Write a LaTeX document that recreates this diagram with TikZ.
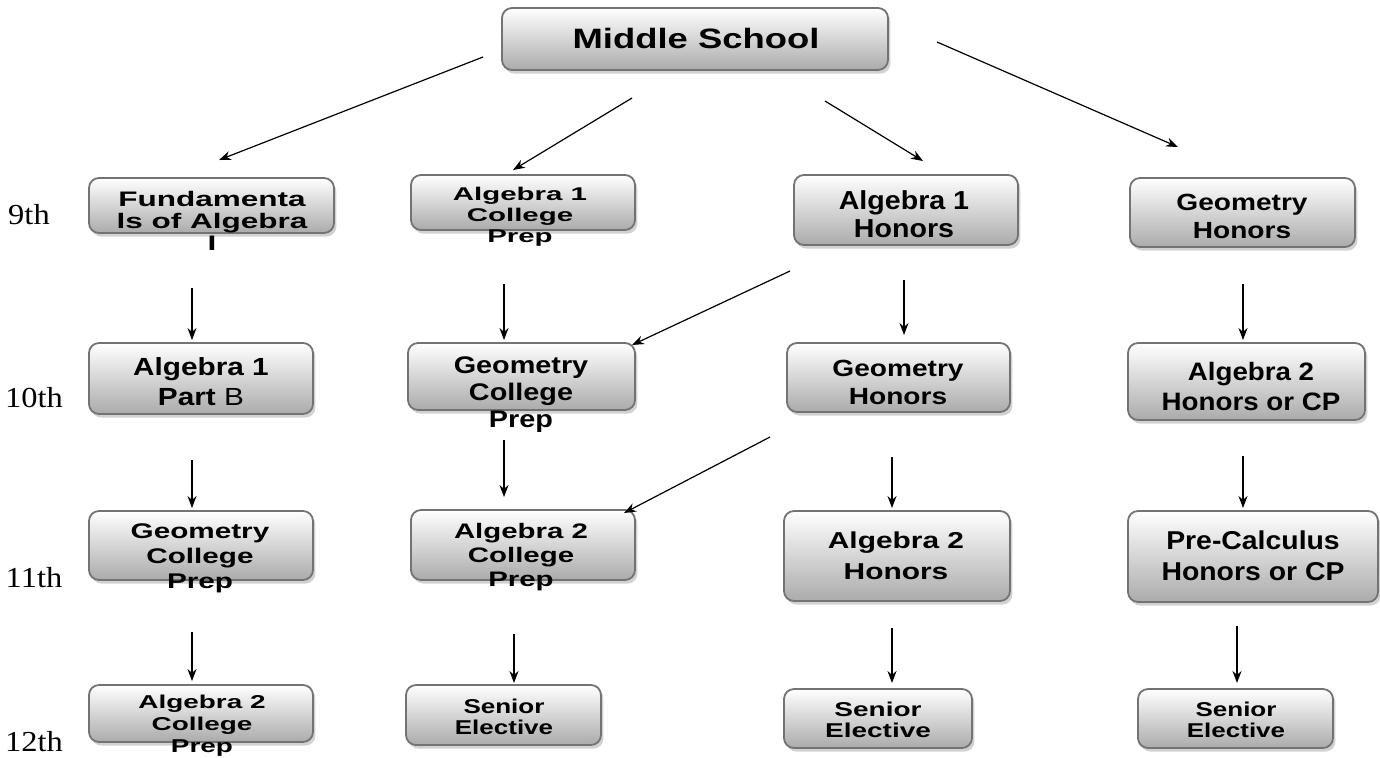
\documentclass[tikz,border=0pt]{standalone}
\usepackage{fontspec}
\setmainfont{Liberation Serif}
\newfontfamily\rowfont[FakeStretch=1.12]{Liberation Serif}
\newfontfamily\fsA[FakeStretch=1.1]{Liberation Sans}
\newfontfamily\fsB[FakeStretch=1.2]{Liberation Sans}
\newfontfamily\fsC[FakeStretch=1.3]{Liberation Sans}
\newfontfamily\fsD[FakeStretch=1.4]{Liberation Sans}
\newfontfamily\fsE[FakeStretch=1.5]{Liberation Sans}
\newfontfamily\fsF[FakeStretch=1.6]{Liberation Sans}
\usetikzlibrary{shadows,arrows.meta,calc}
\newcommand\fsz[2]{\fontsize{#1}{#2}\selectfont\bfseries}
\newcommand\mybox[5]{\node[box, minimum width={(#4-#2)*0.5pt}, minimum height={(#5-#3)*0.5pt}] (#1) at ({(#2+#4)/2},{(#3+#5)/2}) {};}
\tikzset{
  box/.style={draw=black!55, line width=0.9pt, rounded corners=5pt, top color=white, bottom color=black!33,
    drop shadow={shadow xshift=1.2pt, shadow yshift=-1.8pt, opacity=0.35}, inner sep=0pt},
  txt/.style={align=center, inner sep=0pt},
  arr/.style={-{Stealth[length=6pt,width=4.5pt]}, line width=0.6pt},
  rowlab/.style={font=\rowfont\fontsize{14.5}{16}\selectfont, inner sep=0pt}
}
\begin{document}
\begin{tikzpicture}[x=0.5pt,y=-0.5pt]
\useasboundingbox (0,0) rectangle (1380,757);
\fill[white] (0,0) rectangle (1380,757);

% boxes
\mybox{ms}{502}{8}{888}{70}
\mybox{fund}{89}{178}{334}{233}
\mybox{aocp}{411}{175}{635}{230}
\mybox{aoh}{794}{175}{1018}{245}
\mybox{ghn}{1130}{178}{1355}{247}
\mybox{aob}{89}{343}{313}{414}
\mybox{gcpt}{408}{343}{635}{410}
\mybox{ght}{787}{343}{1010}{412}
\mybox{athc}{1128}{343}{1365}{420}
\mybox{gcpe}{89}{511}{313}{580}
\mybox{atcpe}{411}{510}{635}{580}
\mybox{ath}{784}{511}{1010}{601}
\mybox{pc}{1128}{511}{1378}{602}
\mybox{atcpw}{89}{685}{313}{742}
\mybox{seb}{406}{685}{601}{745}
\mybox{sec}{784}{689}{972}{748}
\mybox{sed}{1138}{689}{1333}{748}

% texts
\node[txt, font=\fsC\fsz{14}{16}] (ms-t) at (696,38) {Middle School};
\node[txt, font=\fsE\fsz{10.5}{11}] (fund-t) at (212,221) {Fundamenta\\ls of Algebra\\I};
\node[txt, font=\fsF\fsz{9.2}{10.5}] (aocp-t) at (520,217) {Algebra 1\\College\\Prep};
\node[txt, font=\fsA\fsz{13}{14}] (aoh-t) at (904,214) {Algebra 1\\Honors};
\node[txt, font=\fsB\fsz{11.7}{14}] (ghn-t) at (1242,216) {Geometry\\Honors};
\node[txt, font=\fsB\fsz{12.4}{15}] (aob-t) at (201,382) {Algebra 1\\Part {\mdseries B}};
\node[txt, font=\fsB\fsz{12}{13.5}] (gcpt-t) at (521,395) {Geometry\\College\\Prep};
\node[txt, font=\fsB\fsz{11.7}{14}] (ght-t) at (898,382) {Geometry\\Honors};
\node[txt, font=\fsA\fsz{12.6}{15}] (athc-t) at (1251,386) {Algebra 2\\Honors or CP};
\node[txt, font=\fsD\fsz{10.6}{12.5}] (gcpe-t) at (200,558) {Geometry\\College\\Prep};
\node[txt, font=\fsD\fsz{10.5}{12}] (atcpe-t) at (521,557) {Algebra 2\\College\\Prep};
\node[txt, font=\fsC\fsz{11.5}{15.5}] (ath-t) at (896,556) {Algebra 2\\Honors};
\node[txt, font=\fsA\fsz{12.9}{15.5}] (pc-t) at (1253,556) {Pre-Calculus\\Honors or CP};
\node[txt, font=\fsE\fsz{9.3}{11}] (atcpw-t) at (202,726) {Algebra 2\\College\\Prep};
\node[txt, font=\fsC\fsz{10}{10.5}] (seb-t) at (504,717) {Senior\\Elective};
\node[txt, font=\fsD\fsz{10}{10.5}] (sec-t) at (878,720) {Senior\\Elective};
\node[txt, font=\fsC\fsz{10}{10.5}] (sed-t) at (1236,720) {Senior\\Elective};

% row labels
\node[rowlab] (r9) at (29,215) {9th};
\node[rowlab] (r10) at (34,398) {10th};
\node[rowlab] (r11) at (34,578) {11th};
\node[rowlab] (r12) at (34,742) {12th};

% arrow end points
\coordinate (m1s) at (483,57);   \coordinate (m1e) at (219,160);
\coordinate (m2s) at (632,98);   \coordinate (m2e) at (513,170);
\coordinate (m3s) at (825,101);  \coordinate (m3e) at (923,161);
\coordinate (m4s) at (937,42);   \coordinate (m4e) at (1178,147);
\coordinate (a1s) at (192,288);  \coordinate (a1e) at (192,340);
\coordinate (a2s) at (192,460);  \coordinate (a2e) at (192,508);
\coordinate (a3s) at (192,632);  \coordinate (a3e) at (192,681);
\coordinate (b1s) at (504,284);  \coordinate (b1e) at (504,340);
\coordinate (b2s) at (504,440);  \coordinate (b2e) at (504,497);
\coordinate (b3s) at (514,634);  \coordinate (b3e) at (514,683);
\coordinate (c1s) at (904,280);  \coordinate (c1e) at (904,335);
\coordinate (c2s) at (892,457);  \coordinate (c2e) at (892,508);
\coordinate (c3s) at (892,628);  \coordinate (c3e) at (892,683);
\coordinate (d1s) at (1243,284); \coordinate (d1e) at (1243,340);
\coordinate (d2s) at (1243,456); \coordinate (d2e) at (1243,508);
\coordinate (d3s) at (1237,626); \coordinate (d3e) at (1237,683);
\coordinate (x1s) at (790,271);  \coordinate (x1e) at (632,345);
\coordinate (x2s) at (770,437);  \coordinate (x2e) at (624,513);

\foreach \p in {m1,m2,m3,m4,a1,a2,a3,b1,b2,b3,c1,c2,c3,d1,d2,d3,x1,x2}
  \draw[arr] (\p s) -- (\p e);
\end{tikzpicture}
\end{document}
